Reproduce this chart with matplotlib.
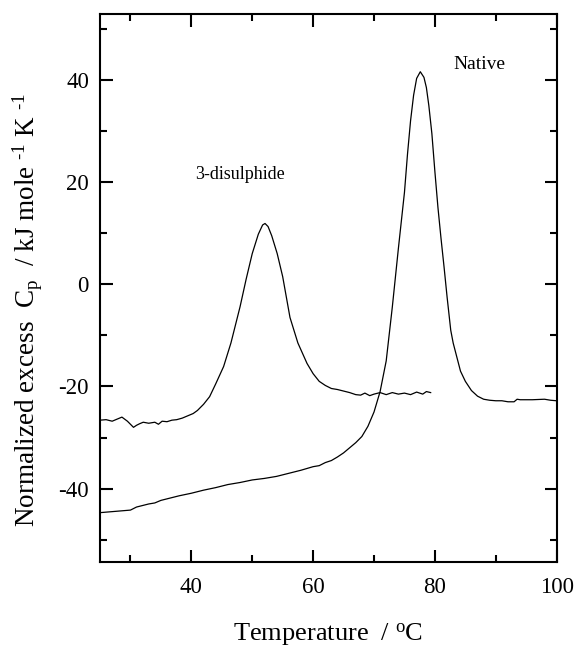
import matplotlib
matplotlib.use("Agg")
import matplotlib.pyplot as plt
from matplotlib.ticker import MultipleLocator

plt.rcParams['font.family'] = ['Liberation Serif', 'DejaVu Serif']
plt.rcParams['mathtext.fontset'] = 'custom'
plt.rcParams['mathtext.rm'] = 'Liberation Serif'
plt.rcParams['mathtext.it'] = 'Liberation Serif:italic'
plt.rcParams['axes.unicode_minus'] = False

# Native protein
native_T = [25.0, 27.0, 29.0, 30.0, 31.0, 32.0, 33.0, 34.0, 35.0, 36.0, 37.0, 38.0,
            40.0, 42.0, 44.0, 46.0, 48.0, 50.0, 52.0, 54.0, 56.0, 58.0, 60.0, 61.0,
            62.0, 63.0, 64.0, 65.0, 66.0, 67.0, 68.0, 69.0, 70.0, 71.0, 72.0, 73.0,
            74.0, 75.0, 75.5, 76.0, 76.5, 77.0, 77.6, 78.2, 78.6, 79.0, 79.5, 80.0,
            80.5, 81.0, 81.5, 82.0, 82.6, 83.0, 84.2, 85.0, 86.0, 87.0, 88.0, 89.0,
            90.0, 91.0, 92.0, 93.0, 93.5, 94.0, 96.0, 98.0, 99.0, 100.0]
native_cp = [-44.7, -44.5, -44.3, -44.2, -43.6, -43.3, -43.0, -42.8, -42.3, -42.0, -41.7, -41.4,
             -40.9, -40.3, -39.8, -39.2, -38.8, -38.3, -38.0, -37.6, -37.0, -36.4, -35.7, -35.5,
             -34.9, -34.5, -33.8, -33.0, -32.0, -31.0, -29.8, -27.8, -25.0, -21.0, -15.0, -4.5,
             7.0, 18.0, 25.5, 32.0, 37.0, 40.3, 41.6, 40.5, 38.5, 35.0, 29.5, 22.0,
             15.0, 9.0, 3.4, -2.5, -9.0, -11.5, -17.0, -19.0, -20.8, -21.9, -22.5, -22.7,
             -22.8, -22.8, -23.0, -23.0, -22.5, -22.6, -22.6, -22.5, -22.7, -22.8]

# 3-disulphide variant
disul_T = [25.0, 26.0, 27.0, 28.0, 28.6, 29.5, 30.5, 31.0, 31.5, 32.1, 33.0, 34.0,
           34.6, 35.2, 36.0, 36.8, 37.6, 38.5, 39.3, 40.3, 41.0, 42.0, 43.0, 44.0,
           45.3, 46.5, 48.0, 49.0, 50.0, 51.0, 51.7, 52.1, 52.6, 53.2, 54.1, 55.0,
           56.2, 57.5, 59.0, 60.0, 61.0, 62.0, 63.0, 64.0, 65.0, 66.0, 67.0, 67.8,
           68.5, 69.3, 70.0, 71.0, 72.0, 73.0, 74.0, 75.0, 76.0, 77.0, 78.0, 78.6, 79.3]
disul_cp = [-26.6, -26.5, -26.8, -26.3, -26.0, -26.8, -28.0, -27.6, -27.3, -27.0, -27.2, -27.0,
            -27.4, -26.8, -26.9, -26.6, -26.5, -26.2, -25.8, -25.3, -24.7, -23.5, -22.0, -19.5,
            -16.1, -11.5, -4.4, 1.0, 6.0, 9.8, 11.6, 11.9, 11.3, 9.5, 6.0, 1.5,
            -6.5, -11.5, -15.5, -17.5, -19.0, -19.8, -20.4, -20.6, -20.9, -21.2, -21.6, -21.7,
            -21.3, -21.8, -21.5, -21.2, -21.6, -21.2, -21.5, -21.3, -21.6, -21.1, -21.5, -21.0, -21.2]

W, H = 577, 649
fig = plt.figure(figsize=(W / 100, H / 100), dpi=100)
L, R, T, B = 100, 556.7, 14, 561.7
ax = fig.add_axes([L / W, 1 - B / H, (R - L) / W, (B - T) / H])

ax.plot(native_T, native_cp, color='black', lw=0.9)
ax.plot(disul_T, disul_cp, color='black', lw=0.9)

ax.set_xlim(25, 100)
ax.set_ylim(-54.3, 52.9)
ax.xaxis.set_major_locator(MultipleLocator(20))
ax.xaxis.set_minor_locator(MultipleLocator(10))
ax.yaxis.set_major_locator(MultipleLocator(20))
ax.yaxis.set_minor_locator(MultipleLocator(10))
ax.tick_params(which='both', direction='in', top=True, right=True, width=1.5,
               labelsize=16.5, pad=8)
ax.tick_params(which='major', length=9)
ax.tick_params(which='minor', length=4.8)
ax.tick_params(axis='x', pad=11)
for s in ax.spines.values():
    s.set_linewidth(1.5)

ax.text(40.6, 21.4, '3-disulphide', fontsize=13, ha='left', va='center')
ax.text(83.1, 43.0, 'Native', fontsize=14, ha='left', va='center')

fig.text(328 / W, 1 - 635 / H, r'Temperature  / $^{\rm o}$C', fontsize=19,
         ha='center', va='center')
fig.text(28 / W, 1 - 310 / H,
         r'Normalized excess  C$_{\rm p}$  / kJ mole $^{\text{-1}}$ K $^{\text{-1}}$',
         fontsize=19.5, rotation=90, ha='center', va='center', rotation_mode='anchor')

fig.savefig('out.png', dpi=100)
